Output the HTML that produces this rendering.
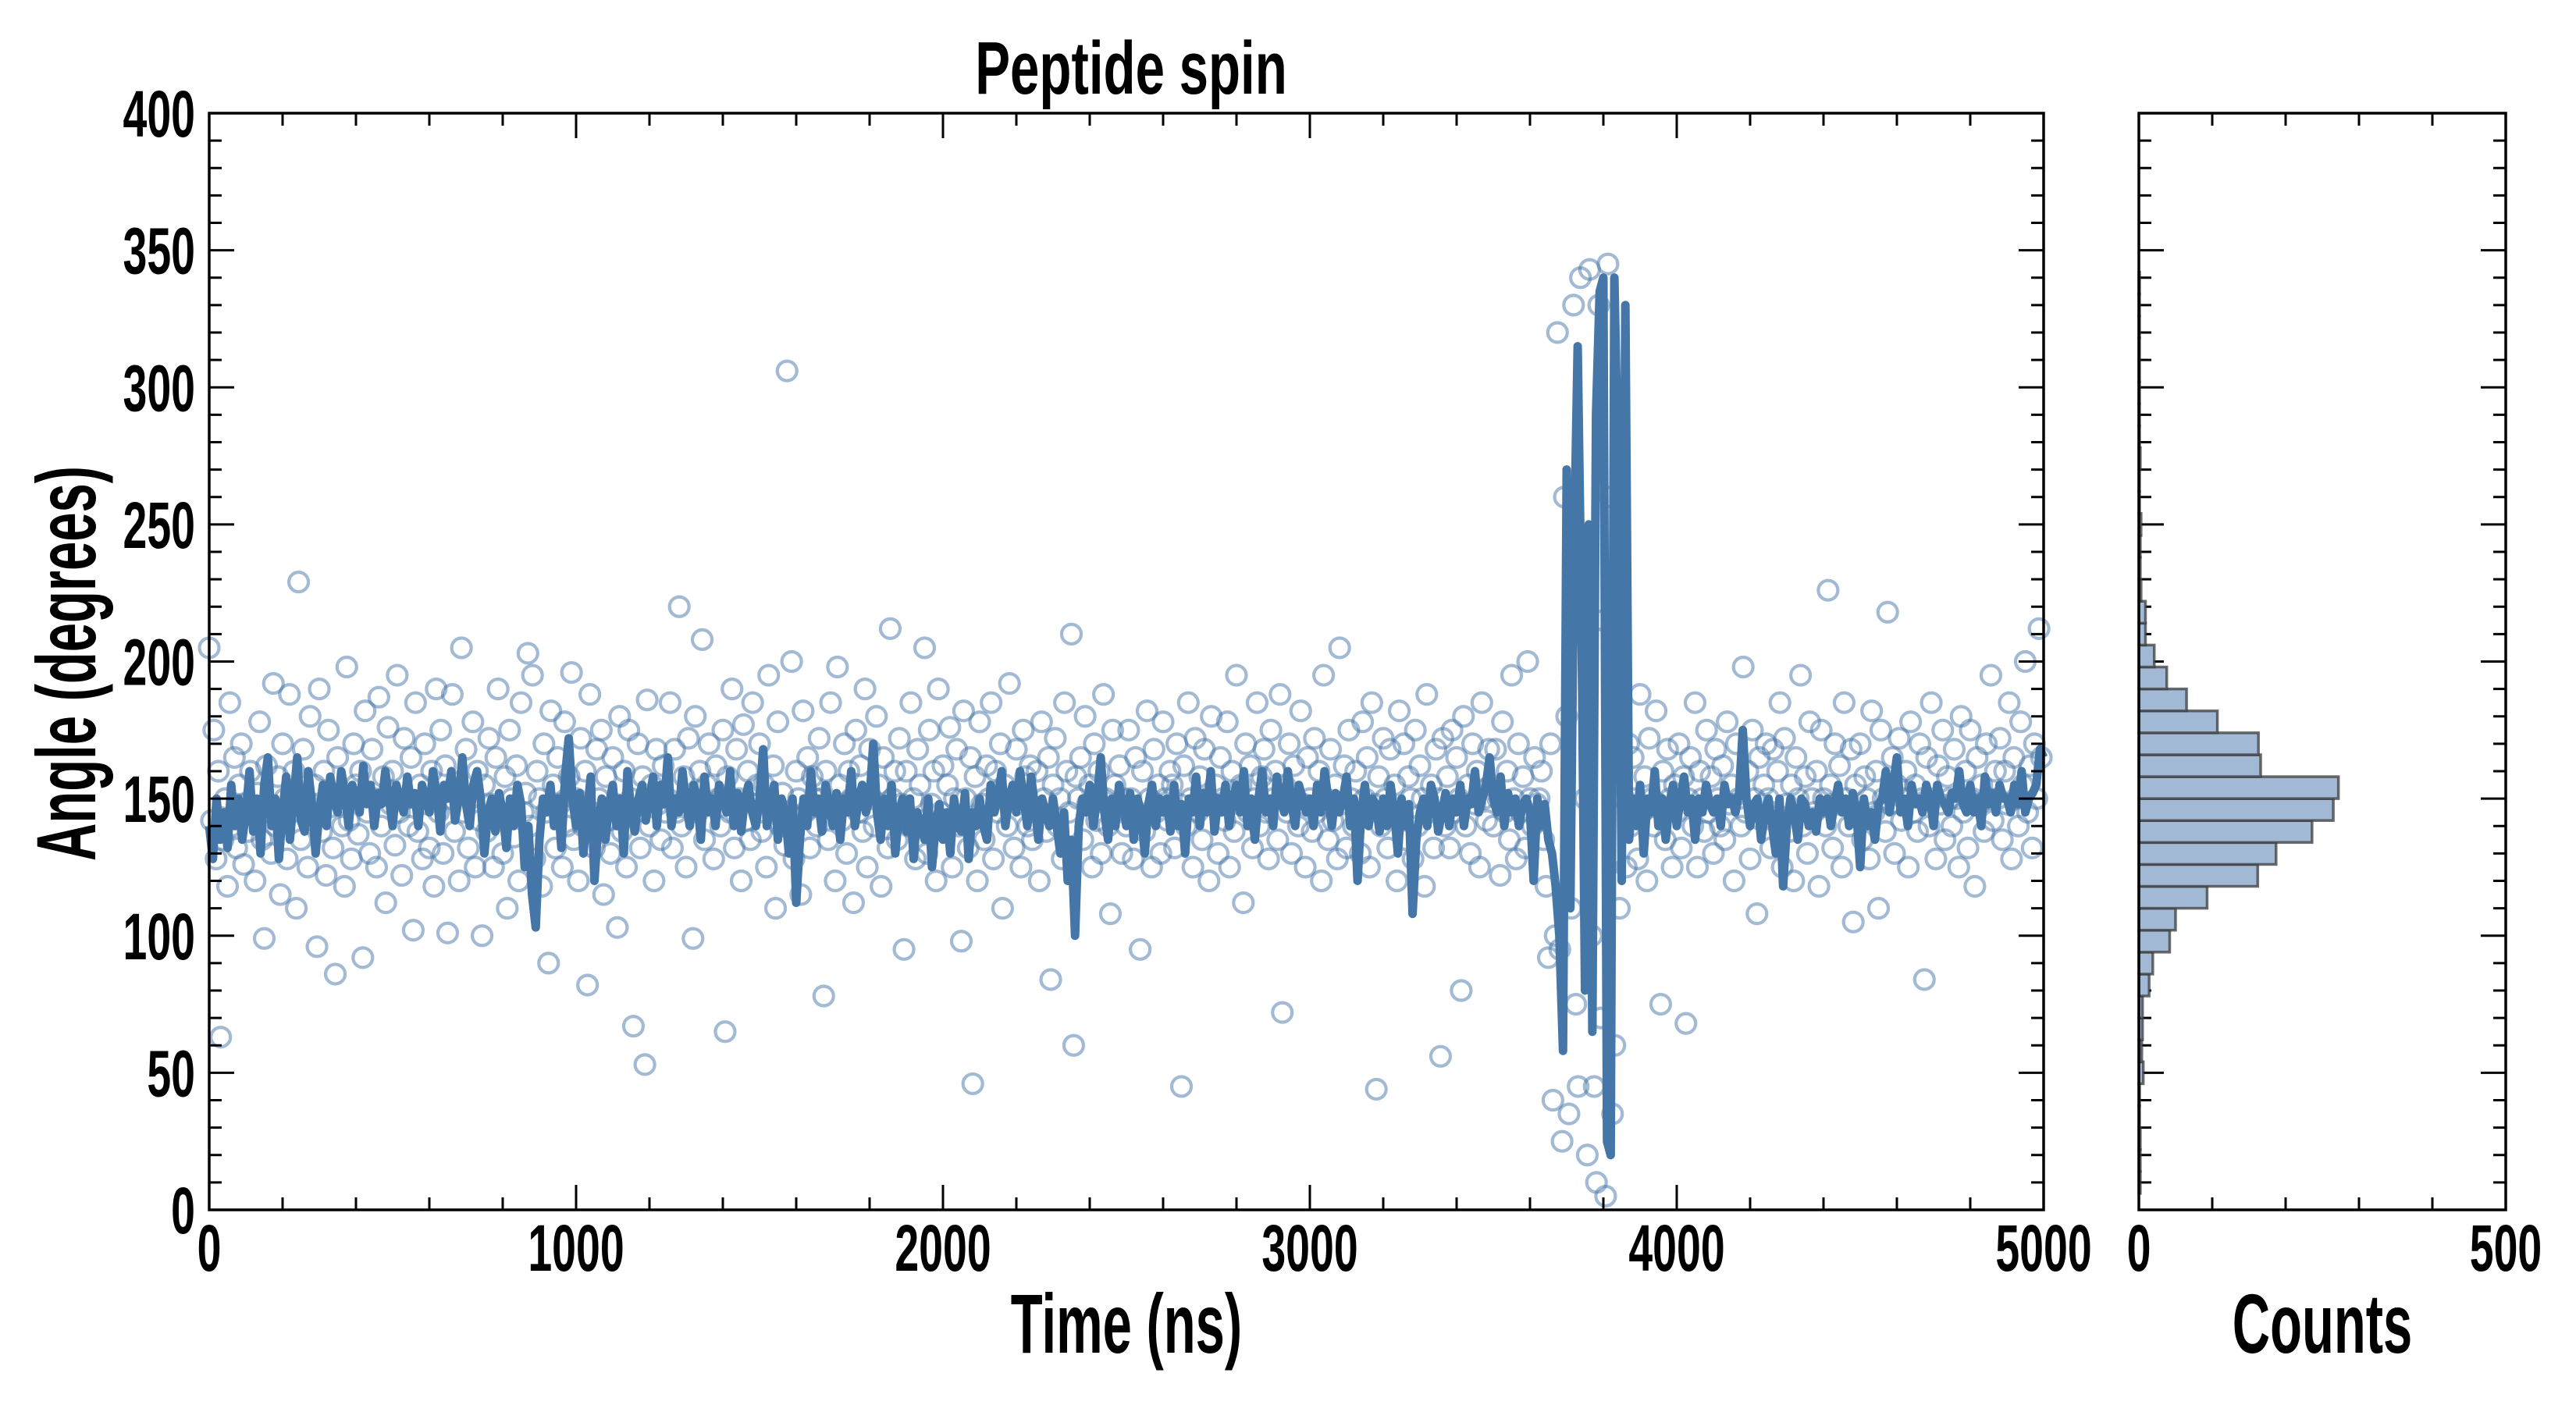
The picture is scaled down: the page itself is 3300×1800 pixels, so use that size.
<!DOCTYPE html>
<html><head><meta charset="utf-8"><style>
html,body{margin:0;padding:0;background:#fff;}
svg{display:block;}
text{font-family:"Liberation Sans",sans-serif;font-weight:bold;fill:#000;}
</style></head><body>
<svg id="chart" width="3300" height="1800" viewBox="0 0 3300 1800" xmlns="http://www.w3.org/2000/svg">
<text font-size="96" text-anchor="middle" transform="translate(1449,120) scale(0.7,1)">Peptide spin</text>
<g id="main"></g>
<g id="hist"></g>
<text font-size="108" text-anchor="middle" transform="translate(1443,1733) scale(0.62,1)">Time (ns)</text>
<text font-size="108" text-anchor="middle" transform="translate(2975,1733) scale(0.62,1)">Counts</text>
<text font-size="108" text-anchor="middle" transform="translate(122,850) rotate(-90) scale(0.62,1)">Angle (degrees)</text>
</svg>
<script>
const xTicks=[0,1000,2000,3000,4000,5000];
const yTicks=[0,50,100,150,200,250,300,350,400];
const histXTicks=[0,500];
const scatterStep=6.25;
const scatterAngles=[
205,142,175,128,160,63,135,150,118,185,140,165,132,155,170,126,148,138,160,145,
120,152,178,135,99,162,145,130,192,140,158,115,170,150,128,188,145,160,110,229,
135,168,150,125,180,142,155,96,190,138,160,122,175,147,132,86,165,150,140,118,
198,142,128,170,155,137,160,92,182,145,130,168,150,125,187,140,158,112,176,148,
160,133,195,145,122,172,150,140,165,102,185,138,155,128,170,148,132,160,118,190,
145,175,130,162,101,150,188,138,156,120,205,145,168,132,150,178,125,160,142,100,
155,138,172,148,125,165,190,142,130,158,110,175,150,136,162,120,185,145,152,203,
140,195,128,160,150,118,170,145,90,182,155,132,165,148,125,178,140,158,196,135,
150,120,172,140,160,82,188,145,132,168,150,175,115,158,142,130,165,148,103,180,
138,160,125,175,150,67,145,170,132,158,53,186,140,155,120,168,148,135,162,145,
150,185,132,168,145,220,140,158,125,172,150,99,180,145,160,208,135,155,170,148,
128,162,150,140,175,65,158,145,190,132,168,150,120,177,142,160,135,185,148,155,
170,138,155,125,195,148,162,110,178,140,152,133,306,145,200,128,160,150,115,182,
145,165,132,158,150,140,172,150,78,160,135,185,148,120,198,155,142,170,130,160,
150,112,175,145,162,138,190,125,168,150,140,180,155,118,165,145,132,212,150,160,
135,172,148,95,160,140,185,150,128,168,155,142,205,130,175,148,160,120,190,145,
162,138,155,176,125,150,168,140,98,182,150,132,165,46,158,120,178,148,135,162,
150,185,128,160,145,170,110,155,140,192,150,132,168,148,125,175,158,140,162,135,
145,160,120,178,150,138,165,84,155,172,140,150,128,185,160,145,210,60,158,150,
165,135,180,148,155,125,170,142,160,130,188,150,140,108,175,155,145,162,130,150,
140,175,150,128,165,145,95,160,138,182,150,125,168,145,155,130,178,150,142,160,
155,132,170,148,45,162,140,185,150,125,172,145,158,135,168,150,120,180,148,155,
130,165,150,142,178,125,160,138,195,148,155,112,170,145,162,132,150,185,140,158,
168,145,128,175,150,160,135,188,72,155,145,170,130,162,150,140,182,148,125,165,
150,138,172,145,160,120,195,150,135,168,142,155,128,205,148,162,132,175,150,140,
160,145,130,178,150,165,125,185,148,44,158,140,172,150,132,168,145,155,120,182,
145,170,135,158,150,128,175,140,162,150,118,188,145,155,132,168,150,56,172,140,
158,132,175,145,165,150,80,180,140,155,130,170,148,160,125,185,150,142,168,155,
140,168,150,122,178,145,160,135,195,150,128,170,145,158,132,200,150,140,165,148,
150,160,135,118,92,170,40,100,320,95,25,260,180,35,110,330,75,45,340,230,
150,20,343,100,45,10,330,70,215,5,345,260,35,60,200,110,160,150,125,170,
140,165,150,128,188,145,158,120,172,150,140,182,148,75,160,135,168,150,125,155,
145,170,132,158,68,150,165,140,185,125,160,150,138,175,145,158,130,168,150,140,
162,135,178,148,155,120,170,150,140,198,145,160,128,175,150,108,165,142,155,170,
150,132,168,145,160,185,125,172,148,138,155,120,165,150,195,140,158,130,178,150,
145,160,118,175,150,140,226,155,132,170,148,162,125,185,150,140,168,105,155,145,
170,135,158,150,128,182,145,160,110,175,150,138,218,148,165,130,155,172,142,150,
160,125,178,145,155,138,170,150,84,165,140,185,150,128,162,148,175,135,158,150,
140,168,150,125,180,145,160,132,175,150,118,165,148,155,138,170,150,195,142,160,
150,172,135,160,148,185,128,165,150,140,178,155,200,145,162,132,170,150,212,165];
const lineStep=10;
const lineAngles=[
140,128,150,135,145,132,155,140,150,135,
145,160,138,150,130,155,165,140,150,128,
145,158,135,150,165,142,138,160,148,130,
145,155,140,158,150,145,160,152,140,155,
150,145,162,148,155,140,152,148,160,150,
140,155,150,145,158,148,152,140,155,150,
145,160,152,138,155,150,160,142,150,165,
148,140,155,160,150,130,145,150,138,152,
145,132,150,140,155,148,125,140,115,103,
135,150,145,155,140,150,132,158,172,150,
140,152,130,145,158,120,140,150,135,148,
155,140,150,130,160,145,138,150,155,142,
150,158,140,155,148,165,140,150,145,160,
148,140,155,150,135,158,145,150,140,155,
150,145,160,140,152,138,150,155,145,140,
150,168,140,148,155,135,150,145,130,150,
112,135,150,140,160,145,150,138,155,148,
140,152,135,150,145,160,140,150,155,145,
150,170,145,135,150,140,155,130,145,150,
138,150,128,145,140,135,150,125,140,148,
135,145,130,150,140,138,152,128,145,140,
150,140,135,155,145,150,160,140,150,155,
145,160,150,140,158,148,135,150,145,140,
150,140,130,145,120,135,100,140,150,145,
155,140,150,165,145,135,150,140,155,148,
140,152,135,150,145,130,148,155,140,150,
145,150,138,155,140,148,130,150,145,158,
140,152,145,160,138,150,145,155,140,150,
155,145,160,140,150,135,150,160,145,150,
140,158,150,145,160,148,140,155,150,145,
150,140,155,145,160,150,140,152,145,150,
158,140,150,120,145,155,140,150,148,138,
150,140,155,145,130,150,140,148,108,135,
145,150,140,155,150,138,145,152,140,150,
145,155,140,150,148,160,145,150,155,165,
150,145,158,140,152,145,150,140,148,150,
145,120,150,140,148,135,130,118,100,58,
270,110,240,315,220,80,250,65,290,335,
340,25,20,340,270,120,330,135,150,140,
155,130,150,145,160,140,150,135,148,155,
140,150,158,145,150,135,150,145,155,148,
145,150,140,155,148,150,145,152,175,150,
140,148,150,135,145,150,140,130,150,118,
140,150,145,135,150,148,140,145,138,150,
145,150,140,148,155,145,150,140,152,145,
125,150,140,145,135,148,150,160,145,155,
165,145,150,140,155,148,150,145,155,150,
140,155,150,148,145,152,150,160,148,145,
155,145,150,140,158,148,152,145,155,150,
150,145,155,148,160,145,150,152,155,168,
165];
const histBinStart=6;
const histBinWidth=8;
const histCounts=[2,2,2,1,1,6,4,5,5,14,19,42,50,93,162,187,236,265,272,166,163,107,65,38,21,9,9,3,2,2,3,1,1,2,1,1,1,1,1,1,1,1];

const NS="http://www.w3.org/2000/svg";
const M={l:268,r:2618,t:145,b:1550};
const H={l:2740,r:3210,t:145,b:1550};
const xS=v=>M.l+v/5000*(M.r-M.l);
const yS=v=>M.b-v/400*(M.b-M.t);
const hx=v=>H.l+v/500*(H.r-H.l);
function mk(tag,attrs,parent){const e=document.createElementNS(NS,tag);for(const k in attrs)e.setAttribute(k,attrs[k]);parent.appendChild(e);return e;}
const main=document.getElementById('main');
const hist=document.getElementById('hist');

const sg=mk('g',{},main);


scatterAngles.forEach((a,i)=>{
  const c=mk('circle',{cx:xS(i*scatterStep),cy:yS(a),r:12.5,fill:'none',stroke:'rgba(70,117,168,0.5)','stroke-width':4.2},sg);
  
  
});
let d='';
lineAngles.forEach((a,i)=>{d+=(i?'L':'M')+xS(i*lineStep).toFixed(1)+','+yS(a).toFixed(1);});
const ln=mk('path',{d:d,fill:'none',stroke:'#4576a8','stroke-width':11,'stroke-linejoin':'round'},main);



histCounts.forEach((c,i)=>{
  const lo=histBinStart+i*histBinWidth, hi=lo+histBinWidth;
  const r=mk('rect',{x:H.l,y:yS(hi),width:hx(c)-H.l,height:yS(lo)-yS(hi),fill:'#a1b9d4',stroke:'rgba(60,60,60,0.75)','stroke-width':3.5},hist);
  
  
});

function frame(P,parent,name){
  const f=mk('rect',{x:P.l,y:P.t,width:P.r-P.l,height:P.b-P.t,fill:'none',stroke:'#000','stroke-width':3.5},parent);
  
  
}
const tg=mk('g',{stroke:'#000','stroke-width':3},main);


for(let v=0;v<=5000;v+=200){const x=xS(v),L=(v%1000===0)?32:16;
  mk('line',{x1:x,y1:M.b,x2:x,y2:M.b-L},tg);mk('line',{x1:x,y1:M.t,x2:x,y2:M.t+L},tg);}
for(let v=0;v<=400;v+=10){const y=yS(v),L=(v%50===0)?32:16;
  mk('line',{x1:M.l,y1:y,x2:M.l+L,y2:y},tg);mk('line',{x1:M.r,y1:y,x2:M.r-L,y2:y},tg);
  mk('line',{x1:H.l,y1:y,x2:H.l+L,y2:y},tg);mk('line',{x1:H.r,y1:y,x2:H.r-L,y2:y},tg);}
for(let v=0;v<=500;v+=100){const x=hx(v);
  mk('line',{x1:x,y1:H.b,x2:x,y2:H.b-16},tg);mk('line',{x1:x,y1:H.t,x2:x,y2:H.t+16},tg);}
frame(M,main,'main-plot-frame');
frame(H,hist,'hist-plot-frame');

function label(parent,x,y,anchor,txt){
  return mk('text',{'font-size':84,'text-anchor':anchor,transform:'translate('+x+','+y+') scale(0.66,1)'},parent);
}
xTicks.forEach(v=>{const t=label(main,xS(v),1628,'middle');t.textContent=v;
  
  });
yTicks.forEach(v=>{const t=label(main,250,yS(v)+30,'end');t.textContent=v;
  
  });
histXTicks.forEach(v=>{const t=label(hist,hx(v),1628,'middle');t.textContent=v;
  
  });
</script>
</body></html>
